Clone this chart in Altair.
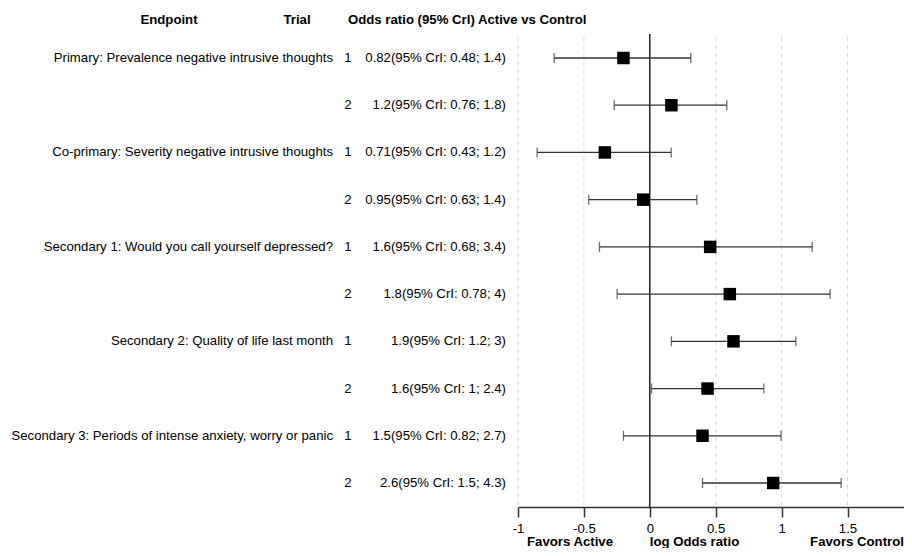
import altair as alt
import pandas as pd

endpoints = [
    "Primary: Prevalence negative intrusive thoughts", "",
    "Co-primary: Severity negative intrusive thoughts", "",
    "Secondary 1: Would you call yourself depressed?", "",
    "Secondary 2: Quality of life last month", "",
    "Secondary 3: Periods of intense anxiety, worry or panic", "",
]
trials = ["1", "2", "1", "2", "1", "2", "1", "2", "1", "2"]
or_text = [
    "0.82(95% CrI: 0.48; 1.4)", "1.2(95% CrI: 0.76; 1.8)",
    "0.71(95% CrI: 0.43; 1.2)", "0.95(95% CrI: 0.63; 1.4)",
    "1.6(95% CrI: 0.68; 3.4)", "1.8(95% CrI: 0.78; 4)",
    "1.9(95% CrI: 1.2; 3)", "1.6(95% CrI: 1; 2.4)",
    "1.5(95% CrI: 0.82; 2.7)", "2.6(95% CrI: 1.5; 4.3)",
]
log_or = [-0.20, 0.164, -0.341, -0.05, 0.458, 0.607, 0.635, 0.438, 0.40, 0.936]
lower = [-0.726, -0.27, -0.855, -0.463, -0.382, -0.248, 0.164, 0.013, -0.20, 0.40]
upper = [0.311, 0.584, 0.162, 0.357, 1.232, 1.368, 1.108, 0.865, 0.996, 1.452]
rows = list(range(1, 11))
tick_vals = [-1, -0.5, 0, 0.5, 1, 1.5, 2]
grid_vals = [-1, -0.5, 0.5, 1, 1.5, 2]

df = pd.DataFrame({
    "row": rows, "endpoint": endpoints, "trial": trials, "ortext": or_text,
    "est": log_or, "lo": lower, "hi": upper,
})
grid_df = pd.DataFrame({"g": grid_vals})
zero_df = pd.DataFrame({"z": [0]})

FONT = "Liberation Sans"
FS = 13.2
AXIS_Y = 499
xscale = alt.Scale(domain=[-1, 2], range=[510, 905.4], nice=False, zero=False)
yscale = alt.Scale(domain=[1, 10], range=[50, 475])

base = alt.Chart(df)

xaxis = alt.Axis(values=tick_vals, labelExpr="'' + datum.value", title=None,
                 grid=False, domainColor="#333333", domainWidth=1.5,
                 tickColor="#333333", tickWidth=1.5, tickSize=10,
                 labelFont=FONT, labelFontSize=FS, labelColor="black",
                 labelPadding=5, labelFlush=False, labelOverlap=False)

grid = alt.Chart(grid_df).mark_rule(color="#d9d9d9", strokeDash=[4, 4], strokeWidth=1).encode(
    x=alt.X("g:Q", scale=xscale, axis=xaxis),
    y=alt.value(29), y2=alt.value(AXIS_Y),
)
zero = alt.Chart(zero_df).mark_rule(color="black", strokeWidth=1.3).encode(
    x=alt.X("z:Q", scale=xscale),
    y=alt.value(26), y2=alt.value(AXIS_Y),
)

bars = base.mark_rule(color="#333333", strokeWidth=1.3).encode(
    x=alt.X("lo:Q", scale=xscale), x2="hi:Q",
    y=alt.Y("row:Q", scale=yscale, axis=None),
)
cap_lo = base.mark_tick(color="#333333", orient="vertical", size=10, thickness=1.3).encode(
    x=alt.X("lo:Q", scale=xscale), y=alt.Y("row:Q", scale=yscale, axis=None),
)
cap_hi = base.mark_tick(color="#333333", orient="vertical", size=10, thickness=1.3).encode(
    x=alt.X("hi:Q", scale=xscale), y=alt.Y("row:Q", scale=yscale, axis=None),
)
pts = base.mark_square(color="black", size=156, opacity=1, filled=True).encode(
    x=alt.X("est:Q", scale=xscale), y=alt.Y("row:Q", scale=yscale, axis=None),
)

txt_end = base.mark_text(align="right", baseline="middle", font=FONT, fontSize=FS, color="black").encode(
    x=alt.value(325), y=alt.Y("row:Q", scale=yscale, axis=None), text="endpoint:N",
)
txt_trial = base.mark_text(align="center", baseline="middle", font=FONT, fontSize=FS, color="black").encode(
    x=alt.value(340), y=alt.Y("row:Q", scale=yscale, axis=None), text="trial:N",
)
txt_or = base.mark_text(align="right", baseline="middle", font=FONT, fontSize=FS, color="black").encode(
    x=alt.value(498), y=alt.Y("row:Q", scale=yscale, axis=None), text="ortext:N",
)

def label(txt, x, y, align="center"):
    return alt.Chart(zero_df).mark_text(text=txt, align=align, baseline="middle", font=FONT,
                                       fontSize=FS, fontWeight="bold", color="black").encode(
        x=alt.value(x), y=alt.value(y))

h1 = label("Endpoint", 161, 12)
h2 = label("Trial", 289, 12)
h3 = label("Odds ratio (95% CrI) Active vs Control", 340, 12, align="left")
b1 = label("Favors Active", 562, 534)
b2 = label("log Odds ratio", 686.5, 534)
b3 = label("Favors Control", 849, 534)

chart = alt.layer(grid, zero, bars, cap_lo, cap_hi, pts, txt_end, txt_trial, txt_or,
                  h1, h2, h3, b1, b2, b3).properties(
    width=896, height=AXIS_Y,
    autosize=alt.AutoSizeParams(type="none"),
    padding={"left": 0, "top": 0, "right": 0, "bottom": 540 - AXIS_Y},
    background="white",
).configure_view(stroke=None)

chart.save("out.html", embed_options={"renderer": "svg", "actions": False})
